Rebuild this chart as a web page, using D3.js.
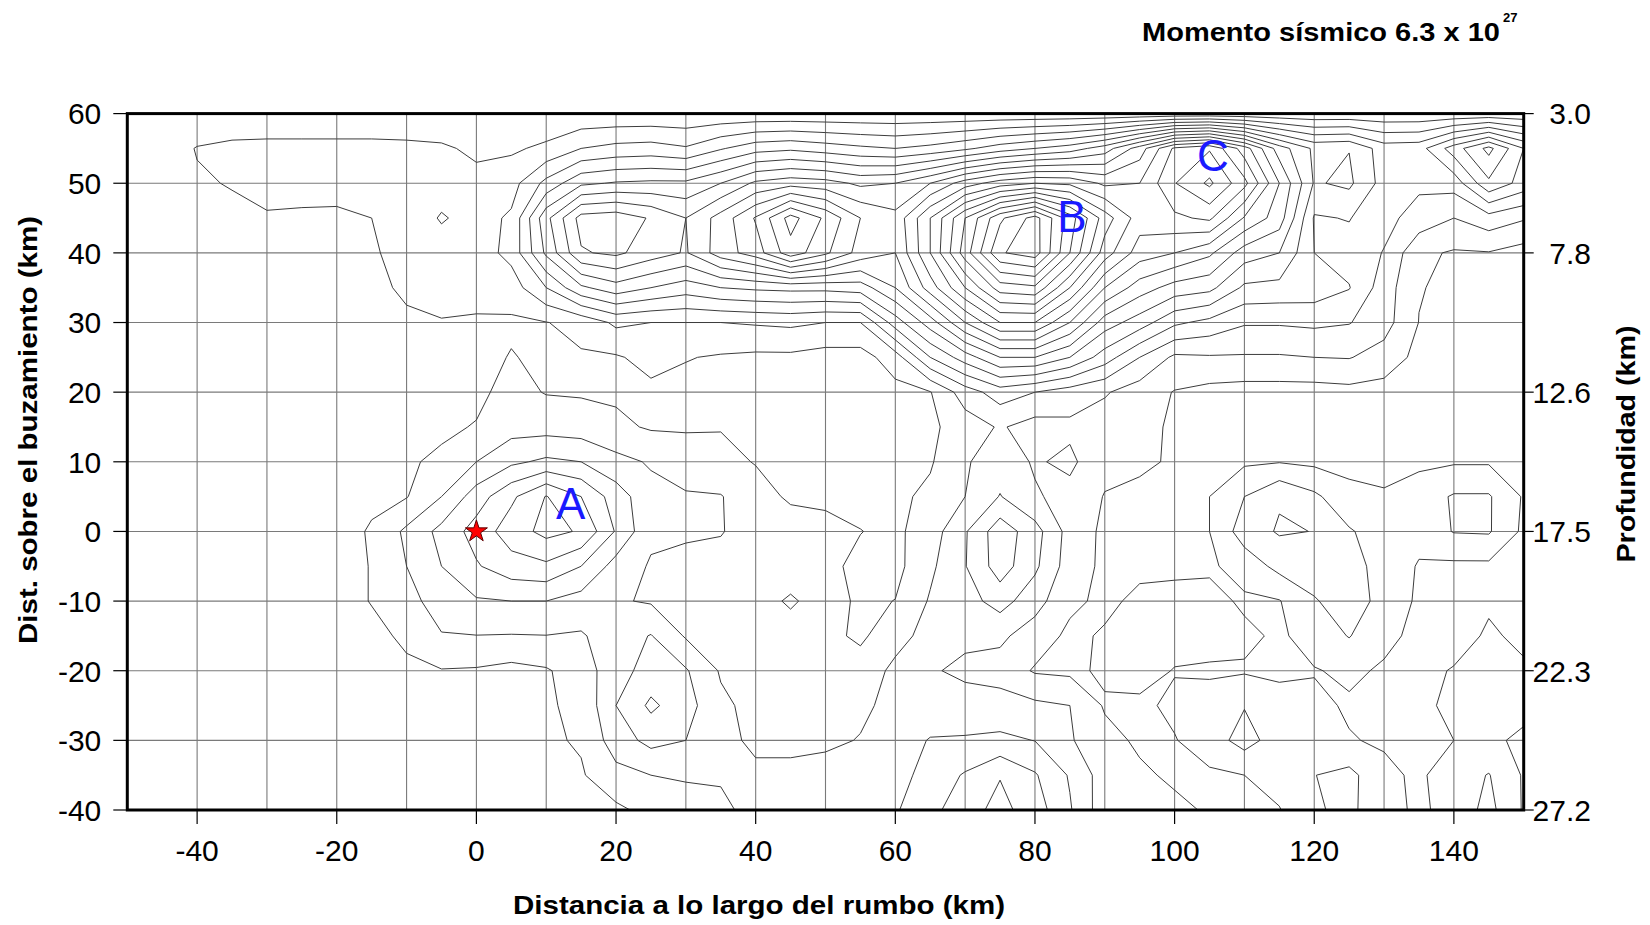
<!DOCTYPE html>
<html><head><meta charset="utf-8">
<script src="https://cdn.jsdelivr.net/npm/d3@7"></script>
<style>body{margin:0;background:#fff}svg{display:block}</style>
</head><body>
<svg id="chart" width="1650" height="925"></svg>
<script>
// ---- data ----
const gridX = d3.range(-50, 151, 5);           // along strike (km), 41 columns
const gridY = d3.range(60, -41, -5);           // along dip (km), 21 rows, top to bottom
const slipRows = [
/* 60 */ [0.2,0.2,0.2,0.2,0.2,0.2,0.2,0.2,0.2,0.2,0.2,0.2,0.2,0.2,0.2,0.2,0.2,0.2,0.2,0.2,0.2,0.2,0.2,0.2,0.2,0.2,0.2,0.2,0.2,0.2,0.2,0.2,0.2,0.2,0.2,0.2,0.2,0.2,0.2,0.2,0.2],
/* 55 */ [0.3,0.5,1.05,1.25,1.3,1.3,1.3,1.3,1.25,1.15,0.8,0.85,1.2,2.0,2.3,2.4,2.1,2.9,3.6,3.8,3.5,3.2,3.0,3.3,3.8,4.5,5.0,5.5,6.5,8.5,11.2,11.9,9.5,6.5,4.8,4.97,3.5,3.6,5.5,7.3,5.0],
/* 50 */ [0.3,0.6,0.9,1.05,1.35,1.35,1.4,1.45,1.5,1.5,1.3,1.6,3.3,4.8,5.1,5.2,5.2,6.0,7.2,7.6,7.4,6.8,7.0,8.0,9.5,10.5,11.0,10.8,9.8,10.0,11.95,13.2,11.3,8.0,4.9,5.2,3.6,3.2,3.4,5.8,4.6],
/* 45 */ [0.3,0.5,0.6,0.8,0.9,0.85,0.8,1.0,1.3,2.1,1.6,2.15,5.7,8.4,8.6,7.9,7.0,8.4,10.1,12.4,10.8,9.0,8.3,11.0,14.0,16.8,18.4,15.5,12.5,10.5,10.8,11.2,8.9,7.5,3.9,4.05,3.3,2.6,2.0,2.6,2.1],
/* 40 */ [0.3,0.4,0.5,0.6,0.7,0.7,0.75,0.9,1.3,1.5,1.5,2.3,5.2,7.9,8.2,7.5,6.9,8.5,9.5,11.6,10.2,8.6,8.0,11.0,14.5,17.9,18.5,15.0,11.5,9.5,9.0,8.2,6.5,6.0,4.0,3.6,2.95,1.2,0.9,0.95,0.6],
/* 35 */ [0.3,0.3,0.35,0.4,0.5,0.55,0.6,0.7,1.2,1.35,1.3,1.5,3.0,4.8,5.6,5.0,4.5,5.0,5.2,5.3,5.3,5.5,7.0,9.5,12.0,14.5,14.8,12.0,9.0,7.5,6.6,6.3,4.8,4.7,4.6,4.05,2.5,1.05,0.8,0.7,0.6],
/* 30 */ [0.3,0.3,0.3,0.35,0.4,0.45,0.5,0.55,0.8,0.95,0.9,0.85,0.97,1.3,2.2,2.0,2.0,2.0,2.1,2.2,2.0,2.0,4.5,6.5,9.0,11.0,11.0,9.0,6.5,5.5,4.2,3.7,3.1,3.1,3.2,3.05,2.4,0.98,0.8,0.7,0.6],
/* 25 */ [0.3,0.3,0.3,0.3,0.3,0.3,0.3,0.3,0.5,0.6,0.7,1.05,0.8,0.9,0.9,1.3,1.05,0.9,0.8,0.8,0.6,0.6,1.5,4.0,5.5,7.0,7.0,6.0,4.5,3.0,1.8,1.9,1.9,1.9,2.0,2.05,1.6,0.7,0.6,0.6,0.5],
/* 20 */ [0.3,0.3,0.3,0.3,0.3,0.3,0.3,0.3,0.4,0.6,0.8,1.3,0.95,0.9,0.85,0.8,0.7,0.7,0.6,0.5,0.5,0.5,0.7,0.95,2.5,3.5,3.0,2.5,2.1,1.5,0.95,0.7,0.6,0.6,0.6,0.7,0.6,0.5,0.5,0.5,0.5],
/* 15 */ [0.3,0.3,0.3,0.3,0.3,0.3,0.3,0.3,0.5,0.85,1.05,1.6,1.6,1.5,1.2,0.9,0.9,0.95,0.8,0.6,0.5,0.5,0.6,0.8,1.5,2.1,1.6,1.8,1.5,1.3,0.85,0.8,0.8,0.85,0.8,0.7,0.7,0.7,0.7,0.75,0.75],
/* 10 */ [0.3,0.3,0.3,0.35,0.4,0.45,0.5,0.7,0.9,1.15,2.0,2.8,3.2,3.0,2.3,1.9,1.5,1.3,0.95,0.8,0.6,0.6,0.6,0.9,1.9,2.5,1.9,2.2,1.3,1.15,0.9,0.8,0.85,0.95,0.8,0.7,0.7,0.8,0.9,0.9,0.8],
/*  5 */ [0.3,0.3,0.3,0.35,0.4,0.45,0.55,0.8,0.95,2.0,3.5,4.8,6.05,5.0,3.5,2.3,2.1,2.05,1.4,0.85,0.8,0.75,0.8,1.2,2.0,3.05,2.1,1.7,0.95,0.8,0.8,1.0,2.0,2.9,2.2,1.3,1.1,1.5,2.1,2.1,0.9],
/*  0 */ [0.3,0.3,0.35,0.4,0.45,0.5,0.6,1.1,2.2,3.3,4.4,5.5,6.3,5.9,3.9,2.2,2.05,2.05,1.6,1.5,1.3,1.02,0.8,1.5,2.9,4.6,3.4,1.6,0.8,0.7,0.8,1.0,2.5,3.1,2.98,2.1,1.5,1.4,2.05,2.1,0.8],
/* -5 */ [0.3,0.3,0.35,0.4,0.45,0.5,0.55,1.05,2.0,3.0,3.9,4.6,4.8,4.0,2.6,1.9,1.9,1.7,1.5,1.4,1.2,0.8,0.7,1.8,2.95,4.5,3.2,1.5,0.8,0.8,0.8,0.85,1.4,2.3,2.3,2.2,1.8,0.9,0.8,0.8,0.85],
/*-10 */ [0.3,0.3,0.35,0.4,0.45,0.5,0.55,1.05,1.7,2.4,2.9,3.0,3.0,2.6,2.1,1.9,1.8,1.65,1.55,2.15,1.5,0.8,1.02,2.1,2.6,3.4,2.4,1.2,0.8,1.2,1.3,1.3,0.85,0.95,1.95,2.3,1.8,0.8,0.85,0.9,1.0],
/*-15 */ [0.3,0.3,0.35,0.4,0.45,0.5,0.5,0.7,1.2,1.95,1.98,1.95,1.98,1.9,2.5,3.05,1.9,1.9,1.6,1.5,1.3,0.8,1.7,2.3,2.2,2.2,1.5,0.8,1.1,1.3,1.4,1.3,1.2,0.85,1.4,2.05,1.2,0.8,0.7,1.1,0.85],
/*-20 */ [0.3,0.3,0.3,0.35,0.4,0.45,0.5,0.5,0.8,0.95,0.9,0.7,0.9,1.5,2.6,3.4,3.1,1.9,1.6,1.5,1.4,1.5,2.2,2.1,1.8,1.6,0.9,0.8,1.15,1.4,0.95,0.9,0.9,0.8,0.95,1.15,0.9,0.8,1.05,1.2,1.1],
/*-25 */ [0.3,0.3,0.3,0.35,0.35,0.4,0.4,0.45,0.5,0.6,0.7,0.8,0.9,1.2,3.0,4.2,3.4,2.2,1.7,1.6,1.6,1.8,2.3,2.5,2.4,2.4,2.2,2.0,0.9,0.8,1.2,1.3,1.95,1.4,1.2,0.9,0.95,0.8,1.2,1.6,1.3],
/*-30 */ [0.3,0.3,0.3,0.3,0.35,0.35,0.4,0.4,0.45,0.5,0.6,0.7,0.85,1.1,2.5,3.3,3.0,2.3,1.8,1.7,1.8,2.05,2.6,3.05,3.1,3.2,2.98,2.1,1.3,0.85,0.95,1.5,2.4,1.5,1.3,1.05,0.9,0.85,1.0,1.2,0.8],
/*-35 */ [0.3,0.3,0.3,0.3,0.3,0.35,0.35,0.4,0.4,0.45,0.5,0.6,0.7,0.9,1.7,2.0,2.1,2.05,2.2,2.3,2.4,2.4,2.6,3.4,4.1,4.95,4.1,2.9,1.5,1.15,0.85,0.85,1.0,1.4,1.98,2.3,1.2,0.85,1.5,2.05,0.9],
/*-40 */ [0.3,0.3,0.3,0.3,0.3,0.3,0.35,0.35,0.4,0.4,0.45,0.5,0.6,0.7,0.8,1.3,1.6,1.9,2.15,2.3,2.3,2.4,2.9,3.7,4.6,5.3,4.5,3.1,1.4,1.3,1.2,0.9,0.8,0.95,1.9,2.2,1.4,0.8,1.4,2.3,0.9]
];
const contourLevels = d3.range(1, 19);
const xTicks = [-40, -20, 0, 20, 40, 60, 80, 100, 120, 140];
const yTicks = [60, 50, 40, 30, 20, 10, 0, -10, -20, -30, -40];
const depthTicks = [60, 40, 20, 0, -20, -40];
const depthLabels = ["3.0", "7.8", "12.6", "17.5", "22.3", "27.2"];
const asperities = [{name: "A", x: 13.5, y: 4}, {name: "B", x: 85.3, y: 45.3}, {name: "C", x: 105.5, y: 54}];
const hypocenter = {x: 0, y: 0};

// ---- layout ----
const svg = d3.select("#chart");
const P = {left: 127.3, right: 1523.7, top: 113.6, bottom: 810};
const x = d3.scaleLinear().domain([-50, 150]).range([P.left, P.right]);
const y = d3.scaleLinear().domain([-40, 60]).range([P.bottom, P.top]);
const FONT = "Liberation Sans, Arial, Helvetica, sans-serif";

svg.append("rect").attr("width", 1650).attr("height", 925).attr("fill", "#fff");
svg.append("defs").append("clipPath").attr("id", "plotclip")
  .append("rect").attr("x", P.left).attr("y", P.top)
  .attr("width", P.right - P.left).attr("height", P.bottom - P.top);

// grid
const grid = svg.append("g").attr("stroke", "#7a7a7a").attr("stroke-width", 1.1);
grid.selectAll("line.v").data(d3.range(-40, 150, 10)).join("line")
  .attr("x1", d => x(d)).attr("x2", d => x(d)).attr("y1", P.top).attr("y2", P.bottom);
grid.selectAll("line.h").data(d3.range(-30, 60, 10)).join("line")
  .attr("y1", d => y(d)).attr("y2", d => y(d)).attr("x1", P.left).attr("x2", P.right);

// contours
const nx = gridX.length, ny = gridY.length;
const contours = d3.contours().size([nx, ny]).thresholds(contourLevels)(slipRows.flat());
const gxs = d3.scaleLinear().domain([0.5, nx - 0.5]).range([gridX[0], gridX[nx - 1]]);
const gys = d3.scaleLinear().domain([0.5, ny - 0.5]).range([gridY[0], gridY[ny - 1]]);
const proj = d3.geoTransform({point(px, py) { this.stream.point(x(gxs(px)), y(gys(py))); }});
const path = d3.geoPath(proj);
svg.append("g").attr("clip-path", "url(#plotclip)")
  .selectAll("path").data(contours).join("path")
  .attr("d", path).attr("fill", "none").attr("stroke", "#3c3c3c").attr("stroke-width", 1)
  .attr("stroke-linejoin", "round");

// frame
svg.append("rect").attr("x", P.left).attr("y", P.top)
  .attr("width", P.right - P.left).attr("height", P.bottom - P.top)
  .attr("fill", "none").attr("stroke", "#000").attr("stroke-width", 3);

// left axis
const ax = svg.append("g").attr("font-family", FONT).attr("fill", "#000");
ax.selectAll("line.yl").data(yTicks).join("line")
  .attr("x1", P.left - 14).attr("x2", P.left).attr("y1", d => y(d)).attr("y2", d => y(d))
  .attr("stroke", "#000").attr("stroke-width", 1.2);
ax.selectAll("text.yl").data(yTicks).join("text")
  .attr("x", P.left - 26).attr("y", d => y(d)).attr("dy", "0.36em")
  .attr("text-anchor", "end").attr("font-size", 30).text(d => d);
// bottom axis
ax.selectAll("line.xl").data(xTicks).join("line")
  .attr("x1", d => x(d)).attr("x2", d => x(d)).attr("y1", P.bottom).attr("y2", P.bottom + 14)
  .attr("stroke", "#000").attr("stroke-width", 1.2);
ax.selectAll("text.xl").data(xTicks).join("text")
  .attr("x", d => x(d)).attr("y", P.bottom + 40).attr("dy", "0.36em")
  .attr("text-anchor", "middle").attr("font-size", 30).text(d => d);
// right axis (depth)
ax.selectAll("line.dr").data(depthTicks).join("line")
  .attr("x1", P.right).attr("x2", P.right + 10).attr("y1", d => y(d)).attr("y2", d => y(d))
  .attr("stroke", "#000").attr("stroke-width", 1.2);
ax.selectAll("text.dr").data(depthTicks).join("text")
  .attr("x", 1591).attr("y", d => y(d)).attr("dy", "0.36em")
  .attr("text-anchor", "end").attr("font-size", 30).text((d, i) => depthLabels[i]);

// titles
svg.append("text").attr("x", 759).attr("y", 914).attr("text-anchor", "middle")
  .attr("font-family", FONT).attr("font-weight", "bold").attr("font-size", 25)
  .attr("textLength", 492).attr("lengthAdjust", "spacingAndGlyphs")
  .text("Distancia a lo largo del rumbo (km)");
svg.append("text").attr("transform", "translate(37,430) rotate(-90)").attr("text-anchor", "middle")
  .attr("font-family", FONT).attr("font-weight", "bold").attr("font-size", 25)
  .attr("textLength", 428).attr("lengthAdjust", "spacingAndGlyphs")
  .text("Dist. sobre el buzamiento (km)");
svg.append("text").attr("transform", "translate(1635,444) rotate(-90)").attr("text-anchor", "middle")
  .attr("font-family", FONT).attr("font-weight", "bold").attr("font-size", 25)
  .attr("textLength", 237).attr("lengthAdjust", "spacingAndGlyphs")
  .text("Profundidad (km)");
const t = svg.append("text").attr("font-family", FONT).attr("font-weight", "bold").attr("fill", "#000");
t.append("tspan").attr("x", 1142).attr("y", 41).attr("font-size", 25)
  .attr("textLength", 358).attr("lengthAdjust", "spacingAndGlyphs").text("Momento sísmico 6.3 x 10");
t.append("tspan").attr("x", 1503).attr("y", 22).attr("font-size", 13).text("27");

// asperity labels
svg.selectAll("text.asp").data(asperities).join("text")
  .attr("x", d => x(d.x)).attr("y", d => y(d.y)).attr("dy", "0.36em").attr("text-anchor", "middle")
  .attr("font-family", FONT).attr("font-size", 44).attr("fill", "#1a1aff").text(d => d.name);

// hypocenter star
svg.append("path")
  .attr("d", d3.symbol().type(d3.symbolStar).size(150)())
  .attr("transform", `translate(${x(hypocenter.x)},${y(hypocenter.y)})`)
  .attr("fill", "#ff0000").attr("stroke", "#5a0000").attr("stroke-width", 1);
</script>
</body></html>
